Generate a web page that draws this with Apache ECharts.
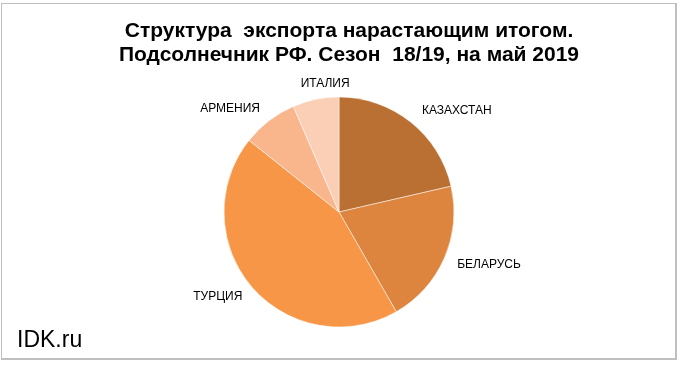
<!DOCTYPE html>
<html>
<head>
<meta charset="utf-8">
<script src="https://cdn.jsdelivr.net/npm/echarts@6/dist/echarts.min.js"></script>
<style>
html,body{margin:0;padding:0;background:#fff;}
#frame{position:absolute;left:1px;top:3px;width:673px;height:354px;border:1.5px solid #bfbfbf;border-right-width:2px;border-bottom-width:2px;}
#c{position:absolute;left:0;top:0;width:680px;height:367px;}
</style>
</head>
<body>
<div id="frame"></div>
<div id="c"></div>
<script>
var categories = ['КАЗАХСТАН', 'БЕЛАРУСЬ', 'ТУРЦИЯ', 'АРМЕНИЯ', 'ИТАЛИЯ'];
var shares = [21.4, 20.3, 44.0, 7.8, 6.5];
var colors = ['#BA7032', '#DD853E', '#F79646', '#F9B58B', '#FBCEB6'];
var titleLines = ['Структура  экспорта нарастающим итогом.', 'Подсолнечник РФ. Сезон  18/19, на май 2019'];
var watermark = 'IDK.ru';

var chart = echarts.init(document.getElementById('c'), null, {renderer: 'canvas'});
var data = categories.map(function (name, i) {
  return {name: name, value: shares[i], itemStyle: {color: colors[i]}};
});
chart.setOption({
  animation: false,
  backgroundColor: 'transparent',
  title: [{
    text: titleLines.join('\n'),
    left: 344,
    top: 14,
    textAlign: 'center',
    textStyle: {fontFamily: 'Liberation Sans, Arial', fontWeight: 'bold', fontSize: 21, lineHeight: 24, color: '#000'}
  }, {
    text: watermark,
    left: 12,
    top: 324,
    textStyle: {fontFamily: 'Liberation Sans, Arial', fontWeight: 'normal', fontSize: 23, lineHeight: 24, color: '#000'}
  }],
  series: [{
    type: 'pie',
    center: [339, 212],
    radius: 115,
    startAngle: 90,
    clockwise: true,
    data: data,
    itemStyle: {borderColor: '#fff', borderWidth: 0.5},
    label: {
      show: true,
      position: 'outside',
      fontFamily: 'Liberation Sans, Arial',
      fontSize: 12,
      color: '#000',
      distanceToLabelLine: 2
    },
    labelLine: {show: false, length: 15, length2: 1},
    labelLayout: function (p) {
      var shift = [[-1, 0], [-4, 1], [5, 0], [3, 0], [40, -1]][p.dataIndex];
      return {dx: shift[0], dy: shift[1]};
    }
  }]
});
</script>
</body>
</html>
